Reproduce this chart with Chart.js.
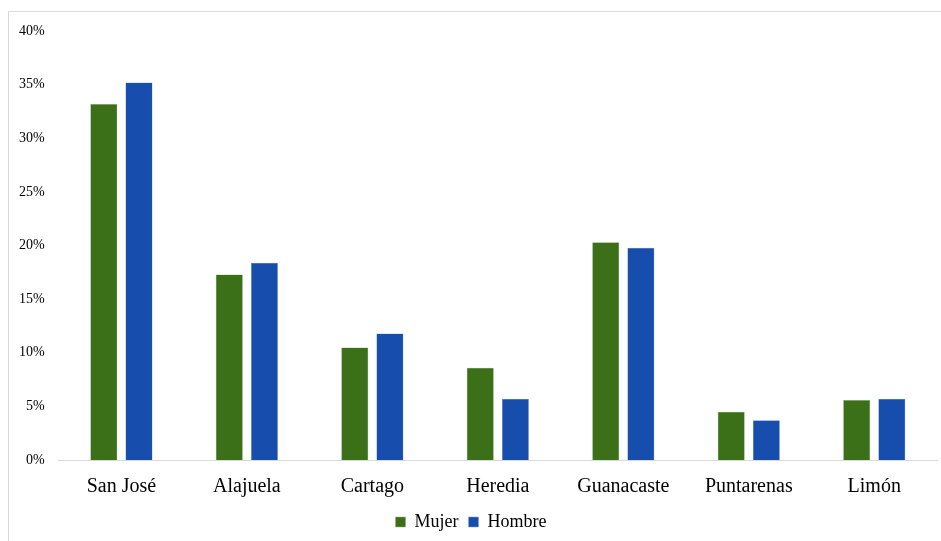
<!DOCTYPE html>
<html>
<head>
<meta charset="utf-8">
<script src="https://cdn.jsdelivr.net/npm/chart.js@4/dist/chart.umd.min.js"></script>
<style>
  html, body { margin: 0; padding: 0; background: #fff; }
  #wrap { position: relative; width: 941px; height: 541px; overflow: hidden; }
  #frame { position: absolute; left: 8px; top: 11px; width: 960px; height: 560px;
           border-left: 1px solid #d9d9d9; border-top: 1px solid #d9d9d9; }
  canvas { position: absolute; left: 0; top: 0; }
</style>
</head>
<body>
<div id="wrap">
  <div id="frame"></div>
  <canvas id="c" width="941" height="541"></canvas>
</div>
<script>
const provincias = ['San José', 'Alajuela', 'Cartago', 'Heredia', 'Guanacaste', 'Puntarenas', 'Limón'];
const mujer  = [33.2, 17.3, 10.5, 8.6, 20.3, 4.5, 5.6];
const hombre = [35.2, 18.4, 11.8, 5.7, 19.8, 3.7, 5.7];

const serif = '"Liberation Serif", "Times New Roman", serif';

new Chart(document.getElementById('c'), {
  type: 'bar',
  data: {
    labels: provincias,
    datasets: [
      { label: 'Mujer', data: mujer, backgroundColor: '#3b7018', borderColor: '#8fae7c', borderWidth: 0.5 },
      { label: 'Hombre', data: hombre, backgroundColor: '#174eae', borderColor: '#7f9ed6', borderWidth: 0.5 }
    ]
  },
  options: {
    responsive: false,
    animation: false,
    categoryPercentage: 0.56,
    barPercentage: 0.77,
    layout: { padding: { left: 5, right: 4, top: 31, bottom: 0 } },
    plugins: {
      tooltip: { enabled: false },
      legend: {
        position: 'bottom',
        labels: {
          boxWidth: 10, boxHeight: 10, padding: 10,
          color: '#000',
          font: { family: serif, size: 18 }
        }
      }
    },
    scales: {
      x: {
        grid: { display: false, drawTicks: false },
        border: { display: true, color: '#d9d9d9', width: 1 },
        ticks: { color: '#000', padding: 15, font: { family: serif, size: 20 } },
        afterFit: scale => { scale.height -= 11; }
      },
      y: {
        min: 0, max: 40,
        grid: { display: false, drawTicks: false },
        border: { display: false },
        ticks: {
          stepSize: 5, color: '#000', padding: 14,
          font: { family: serif, size: 14 },
          callback: v => v + '%'
        }
      }
    }
  }
});
</script>
</body>
</html>
